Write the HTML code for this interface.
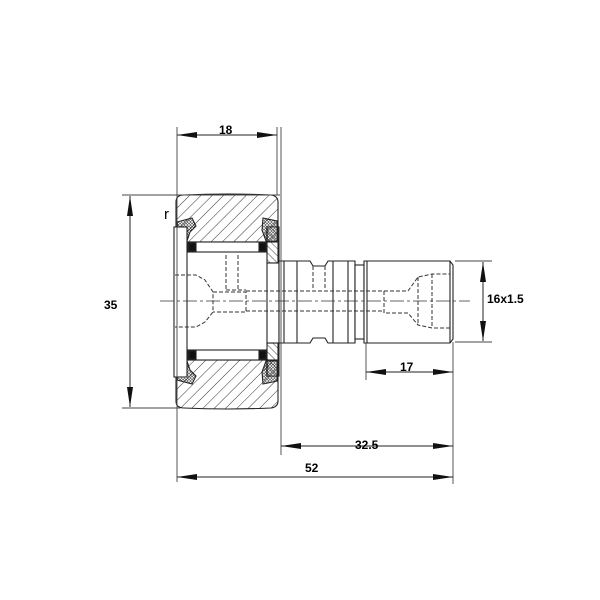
<!DOCTYPE html>
<html><head><style>body{margin:0;background:#fff}svg{display:block}text{font-family:"Liberation Sans",sans-serif;font-size:12px;fill:#000;font-weight:bold}</style></head><body>
<svg width="600" height="600" viewBox="0 0 600 600" xmlns="http://www.w3.org/2000/svg">
<defs>
<pattern id="h" width="8" height="8" patternUnits="userSpaceOnUse" patternTransform="rotate(45)"><line x1="0" y1="0" x2="0" y2="8" stroke="#333" stroke-width="1"/></pattern>
<pattern id="h2" width="5" height="5" patternUnits="userSpaceOnUse" patternTransform="rotate(-45)"><line x1="0" y1="0" x2="0" y2="5" stroke="#333" stroke-width="0.9"/></pattern>
<pattern id="d" width="3" height="3" patternUnits="userSpaceOnUse"><circle cx="1.5" cy="1.5" r="0.9" fill="none" stroke="#222" stroke-width="0.6"/></pattern>
<marker id="a" viewBox="0 0 20 6" refX="20" refY="3" markerWidth="20" markerHeight="6" markerUnits="userSpaceOnUse" orient="auto-start-reverse"><path d="M0,0 L20,3 L0,6 z" fill="#111"/></marker>
</defs>
<g stroke="#222" stroke-width="1.1" fill="none">
<path d="M176,242 L176,202 Q176,195 184,195 Q228,193 271,195 Q278,196 278,202 L278,242 Z" fill="url(#h)"/>
<path d="M176,360 L176,401 Q176,408 184,408 Q228,410 271,408 Q278,407 278,401 L278,360 Z" fill="url(#h)"/>
<rect x="176" y="242" width="102" height="118" fill="#fff"/>
<path d="M177,222 L192,218 L196,226 L190,232 L187,241 L180,241 Z" fill="url(#d)"/>
<path d="M263,218 L277,221 L277,241 L266,241 L262,230 Z" fill="url(#d)"/>
<path d="M177,380 L192,384 L196,376 L190,370 L187,361 L180,361 Z" fill="url(#d)"/>
<path d="M263,384 L277,381 L277,361 L266,361 L262,372 Z" fill="url(#d)"/>
<rect x="188" y="242" width="78" height="10" fill="#fff"/>
<rect x="189" y="243" width="7" height="8" fill="#111"/><rect x="259" y="243" width="7" height="8" fill="#111"/>
<rect x="188" y="350" width="78" height="10" fill="#fff"/>
<rect x="189" y="351" width="7" height="8" fill="#111"/><rect x="259" y="351" width="7" height="8" fill="#111"/>
<rect x="174" y="227" width="13" height="150" fill="#fff"/>
<rect x="267" y="227" width="12" height="36" fill="url(#h2)"/>
<rect x="267" y="343" width="12" height="33" fill="url(#h2)"/>
<rect x="267" y="263" width="12" height="80" fill="#fff"/>
<path d="M279,261 L310,261 L313,266 L325,266 L328,261 L355,261 L355,343 L328,343 L325,338 L313,338 L310,343 L279,343 Z" fill="#fff"/>
<line x1="284" y1="261" x2="284" y2="343"/><line x1="297" y1="261" x2="297" y2="343"/>
<line x1="333" y1="261" x2="333" y2="343"/><line x1="348" y1="261" x2="348" y2="343"/>
<rect x="355" y="265" width="9" height="74" fill="#fff"/>
<path d="M364,261 L450,261 L453,265 L453,339 L450,343 L364,343 Z" fill="#fff"/>
<line x1="367" y1="261" x2="367" y2="343"/><line x1="450" y1="261" x2="450" y2="343"/>
</g>
<g stroke="#333" stroke-width="1" fill="none" stroke-dasharray="4,2">
<path d="M226,255 L226,290 M238,255 L238,290 M226,290 L246,290"/>
<path d="M175,275 L196,275 L205,280 L213,292 L213,312 L205,322 L196,327 L175,327"/>
<path d="M213,292 L246,292 L246,312 L213,312"/>
<path d="M246,291 L384,291 M246,311 L384,311"/>
<path d="M384,291 L384,313 L408,313 L418,325 L432,328 L450,328 M384,291 L408,291 L418,277 L432,274 L450,274 M418,277 L418,325 M432,274 L432,328"/>
<path d="M313,266 L313,290 M325,266 L325,290"/>
</g>
<line x1="160" y1="301" x2="470" y2="301" stroke="#333" stroke-width="0.8" stroke-dasharray="14,3,3,3"/>
<g stroke="#444" stroke-width="0.9">
<line x1="177" y1="127" x2="177" y2="482"/>
<line x1="277" y1="127" x2="277" y2="195"/>
<line x1="281" y1="127" x2="281" y2="455"/>
<line x1="122" y1="195" x2="280" y2="195"/>
<line x1="122" y1="408" x2="180" y2="408"/>
<line x1="455" y1="261" x2="492" y2="261"/>
<line x1="455" y1="342" x2="492" y2="342"/>
<line x1="453" y1="342" x2="453" y2="484"/>
<line x1="366" y1="343" x2="366" y2="380"/>
</g>
<g stroke="#222" stroke-width="1" marker-start="url(#a)" marker-end="url(#a)">
<line x1="177" y1="135" x2="277" y2="135"/>
<line x1="130" y1="196" x2="130" y2="407"/>
<line x1="483" y1="262" x2="483" y2="341"/>
<line x1="366" y1="372" x2="453" y2="372"/>
<line x1="281" y1="446" x2="453" y2="446"/>
<line x1="177" y1="477" x2="453" y2="477"/>
</g>
<text x="219" y="134">18</text>
<text x="104" y="309">35</text>
<text x="487" y="303">16x1.5</text>
<text x="400" y="371">17</text>
<text x="355" y="449">32.5</text>
<text x="305" y="472">52</text>
<text x="164" y="219" style="font-size:15px;font-weight:normal">r</text>
</svg>
</body></html>
